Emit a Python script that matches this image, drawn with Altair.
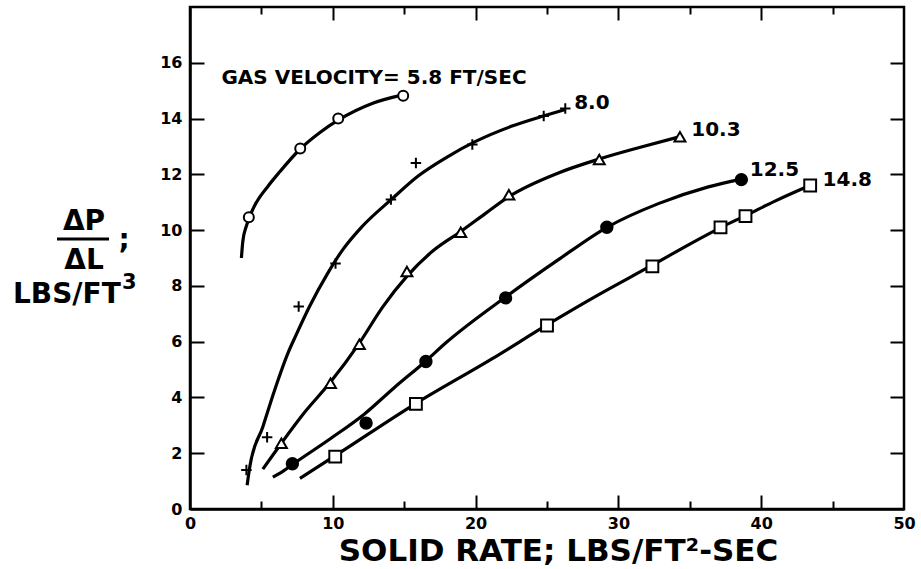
import altair as alt
import pandas as pd

# ---------------- data ----------------
series_names = ["5.8", "8.0", "10.3", "12.5", "14.8"]

curve_58_x = [3.6, 3.7, 3.95, 4.5, 5.5, 6.3, 7.7, 9.1, 10.4, 12.8, 14.9]
curve_58_y = [9.0, 9.6, 10.15, 10.85, 11.6, 12.1, 12.9, 13.5, 13.95, 14.55, 14.85]

curve_80_x = [4.0, 4.19, 5.11, 5.93, 6.86, 7.44, 8.37, 9.65, 10.7, 12.0, 14.1, 16.0, 18.0, 20.0, 22.5, 24.8, 26.3]
curve_80_y = [0.85, 1.52, 2.96, 4.27, 5.59, 6.25, 7.26, 8.46, 9.3, 10.1, 11.1, 11.95, 12.62, 13.18, 13.72, 14.1, 14.33]

curve_103_x = [5.1, 6.4, 8.0, 9.84, 11.86, 13.5, 15.2, 17.0, 18.96, 20.7, 22.33, 25.8, 28.66, 31.6, 34.31]
curve_103_y = [1.43, 2.36, 3.45, 4.55, 5.95, 7.25, 8.35, 9.25, 9.95, 10.6, 11.2, 12.05, 12.55, 12.98, 13.35]

curve_125_x = [5.8, 6.5, 7.3, 9.8, 12.2, 14.3, 16.5, 17.9, 22.1, 25.8, 29.2, 32.8, 36.3, 38.6]
curve_125_y = [1.14, 1.35, 1.64, 2.51, 3.4, 4.35, 5.3, 5.95, 7.6, 8.94, 10.1, 10.95, 11.55, 11.83]

curve_148_x = [7.7, 10.2, 15.8, 21.2, 25.0, 28.5, 32.4, 35.0, 37.2, 38.9, 41.0, 43.4]
curve_148_y = [1.1, 1.92, 3.78, 5.4, 6.6, 7.65, 8.75, 9.5, 10.1, 10.52, 11.05, 11.6]

pts_58_x = [4.12, 7.72, 10.38, 14.93]
pts_58_y = [10.46, 12.93, 14.0, 14.82]

pts_80_x = [3.95, 5.4, 7.61, 10.19, 14.07, 15.82, 19.77, 24.77, 26.28]
pts_80_y = [1.4, 2.57, 7.26, 8.8, 11.1, 12.41, 13.07, 14.09, 14.36]

pts_103_x = [6.4, 9.84, 11.86, 15.19, 18.96, 22.33, 28.66, 34.31]
pts_103_y = [2.36, 4.51, 5.91, 8.52, 9.92, 11.27, 12.53, 13.35]

pts_125_x = [7.17, 12.33, 16.52, 22.1, 29.19, 38.61]
pts_125_y = [1.62, 3.08, 5.29, 7.57, 10.1, 11.81]

pts_148_x = [10.17, 15.82, 25.0, 32.38, 37.15, 38.9, 43.43]
pts_148_y = [1.88, 3.77, 6.58, 8.7, 10.1, 10.5, 11.6]

label_text = ["GAS VELOCITY= 5.8 FT/SEC", "8.0", "10.3", "12.5", "14.8"]
label_x = [2.2, 26.9, 35.1, 39.2, 44.3]
label_y = [15.45, 14.57, 13.58, 12.17, 11.81]

x_tick_labels = [0, 10, 20, 30, 40, 50]
x_major_ticks = [10, 20, 30, 40]
x_minor_ticks = [5, 15, 25, 35, 45]
y_tick_labels = [0, 2, 4, 6, 8, 10, 12, 14, 16]
y_ticks = [2, 4, 6, 8, 10, 12, 14, 16]

# ---------------- build tables ----------------
curves = [(curve_58_x, curve_58_y), (curve_80_x, curve_80_y), (curve_103_x, curve_103_y),
          (curve_125_x, curve_125_y), (curve_148_x, curve_148_y)]
points = [(pts_58_x, pts_58_y), (pts_80_x, pts_80_y), (pts_103_x, pts_103_y),
          (pts_125_x, pts_125_y), (pts_148_x, pts_148_y)]

curve_df = pd.concat([pd.DataFrame({"x": cx, "y": cy, "s": name})
                      for name, (cx, cy) in zip(series_names, curves)], ignore_index=True)
pts_df = pd.concat([pd.DataFrame({"x": px, "y": py, "s": name})
                    for name, (px, py) in zip(series_names, points)], ignore_index=True)
lab_df = pd.DataFrame({"x": label_x, "y": label_y, "t": label_text})

W, H = 714, 502
XMAX, YMAX = 50, 18
FONT = "DejaVu Sans"

xs = alt.Scale(domain=[0, XMAX], nice=False, zero=False)
ys = alt.Scale(domain=[0, YMAX], nice=False, zero=False)

base_x = alt.X("x:Q", scale=xs,
               axis=alt.Axis(orient="bottom", values=x_tick_labels, ticks=False, grid=False,
                             labelPadding=6, labelFontSize=16, labelFont=FONT, labelFontWeight="bold",
                             labelColor="black", domainColor="black", domainWidth=2.5,
                             title="SOLID RATE; LBS/FT²-SEC", titleFontSize=31, titleFont=FONT,
                             titleFontWeight="bold", titleColor="black", titlePadding=5,
                             titleX=368, labelFlush=False))
base_y = alt.Y("y:Q", scale=ys,
               axis=alt.Axis(orient="left", values=y_tick_labels, ticks=False, grid=False,
                             labelPadding=8, labelFontSize=16, labelFont=FONT, labelFontWeight="bold",
                             labelColor="black", domainColor="black", domainWidth=2.5,
                             title=None, labelFlush=False))

lines = alt.Chart(curve_df).mark_line(interpolate="monotone", color="black", strokeWidth=3.2).encode(
    x=base_x, y=base_y, detail="s:N")


# inward ticks: tick-only axes moved to the opposite edge of the plot
def tick_axis(orient, offset, values, size):
    return alt.Axis(orient=orient, offset=offset, values=values, labels=False, domain=False,
                    ticks=True, tickSize=size, tickWidth=2, tickColor="black", grid=False, title=None)


def tick_layer(xaxis, yaxis):
    return alt.Chart(pts_df).mark_point(opacity=0).encode(
        x=alt.X("x:Q", scale=xs, axis=xaxis), y=alt.Y("y:Q", scale=ys, axis=yaxis))


tick_layers = [
    tick_layer(tick_axis("top", -H, x_major_ticks, 14), tick_axis("right", -W, y_ticks, 14)),
    tick_layer(tick_axis("top", -H, x_minor_ticks, 8), tick_axis("left", -W, y_ticks, 14)),
    tick_layer(tick_axis("bottom", -H, x_major_ticks, 13), None),
    tick_layer(tick_axis("bottom", -H, x_minor_ticks, 7), None),
]

plus_path = "M-1,0L1,0M0,-1L0,1"
markers = alt.Chart(pts_df).mark_point(strokeWidth=2, stroke="black", opacity=1, filled=False).encode(
    x=alt.X("x:Q", scale=xs, axis=None), y=alt.Y("y:Q", scale=ys, axis=None),
    shape=alt.Shape("s:N", legend=None,
                    scale=alt.Scale(domain=series_names,
                                    range=["circle", plus_path, "triangle-up", "circle", "square"])),
    fill=alt.Fill("s:N", legend=None,
                  scale=alt.Scale(domain=series_names,
                                  range=["white", "transparent", "white", "black", "white"])),
    size=alt.Size("s:N", legend=None,
                  scale=alt.Scale(domain=series_names, range=[100, 140, 130, 100, 100])),
)

labels = alt.Chart(lab_df).mark_text(align="left", baseline="middle", font=FONT, fontWeight="bold",
                                     fontSize=20, color="black").encode(
    x=alt.X("x:Q", scale=xs, axis=None), y=alt.Y("y:Q", scale=ys, axis=None), text="t:N")

# y-axis title drawn as a stacked fraction
ytitle_text = ["ΔP", "ΔL", ";", "LBS/FT", "3"]
ytitle_df = pd.DataFrame({"t": ytitle_text})
txt = dict(font=FONT, fontWeight="bold", color="black", baseline="alphabetic")


def ytext(t, x, y, size, align="center"):
    return alt.Chart(ytitle_df[ytitle_df.t == t]).mark_text(align=align, fontSize=size, **txt).encode(
        text="t:N", x=alt.value(x), y=alt.value(y))


yt = [
    ytext("ΔP", -106, 223, 28),
    ytext("ΔL", -106, 262, 28),
    ytext(";", -66, 242, 28),
    ytext("LBS/FT", -177, 296, 28, align="left"),
    ytext("3", -68, 282, 21, align="left"),
    alt.Chart(ytitle_df[ytitle_df.t == "ΔP"]).mark_rule(color="black", strokeWidth=3).encode(
        x=alt.value(-133), x2=alt.value(-81), y=alt.value(232)),
]

chart = alt.layer(lines, *tick_layers, markers, labels, *yt).resolve_axis(
    x="independent", y="independent"
).properties(
    width=W, height=H,
    autosize=alt.AutoSizeParams(type="none"),
    padding={"left": 190, "top": 7, "right": 17, "bottom": 60},
    background="white",
).configure_view(stroke="black", strokeWidth=2.5)

chart.save("out.html", embed_options={"renderer": "svg", "actions": False})
